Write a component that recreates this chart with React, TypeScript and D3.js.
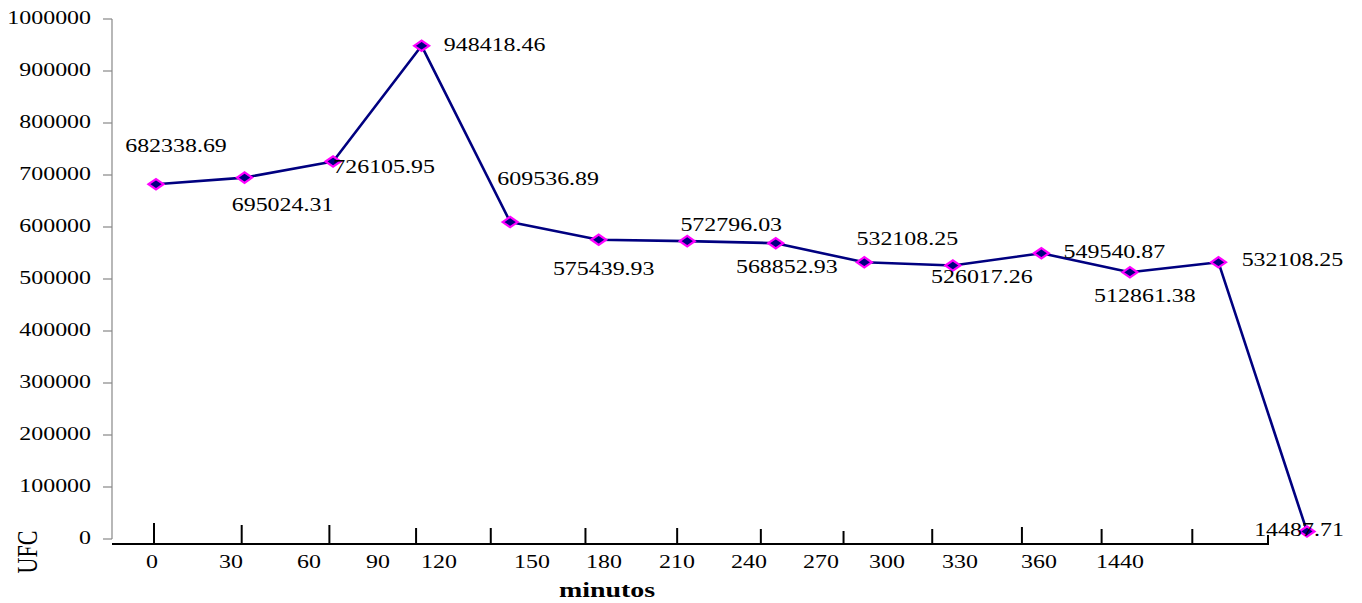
import React from "react";
import * as d3 from "d3";

// Sampling times (minutes) and colony counts (UFC)
const categories: string[] = ["0", "30", "60", "90", "120", "150", "180", "210", "240", "270", "300", "330", "360", "1440"];
const ufcValues: number[] = [
  682338.69, 695024.31, 726105.95, 948418.46, 609536.89, 575439.93, 572796.03,
  568852.93, 532108.25, 526017.26, 549540.87, 512861.38, 532108.25, 14487.71,
];
const yTicks: number[] = [0, 100000, 200000, 300000, 400000, 500000, 600000, 700000, 800000, 900000, 1000000];

// Placement of each value label relative to its point [dx, dy]
const labelOffsets: [number, number][] = [
  [20, -32], [38, 33], [51, 12], [73, 5], [38, -37], [5, 35], [44, -10],
  [11, 30], [43, -17], [29, 18], [73, 5], [15, 30], [74, 4], [-8, 5],
];
// Hand-placed category label nudges and tick marks along the base line
const catLabelNudge: number[] = [0, 4.5, 8, 2.6, -10.8, 7.7, 5.2, 3.8, 1.3, -1.2, -9.6, -11.1, -6.5, 0];
const tickNudge: number[] = [0, 2, 4, 5, -6, 3, 9, 7, 4, 7, 11, 5, 10, 0];
const tickLengths: number[] = [21, 19, 19, 16, 16, 16, 16, 15, 13, 15, 17, 15, 15, 9];

const W = 1362;
const H = 603;
const FONT = "'Liberation Serif', 'Times New Roman', serif";
const SX = 1.33; // horizontal stretch of the text

export default function App() {
  const x = d3.scalePoint<string>().domain(categories).range([156, 1307]);
  const y = d3.scaleLinear().domain([0, 1000000]).range([539, 19]);
  const xCat = d3.scalePoint<string>().domain(categories).range([152, 1120]);
  const xTick = d3.scalePoint<string>().domain(categories).range([154, 1268]);

  const pts = categories.map((c, i) => ({ c, v: ufcValues[i], i }));
  const line = d3
    .line<{ c: string; v: number }>()
    .x((d) => x(d.c)!)
    .y((d) => y(d.v));
  const fmt = d3.format(".2f");
  const axisY = 544;

  const stretched = (tx: number, ty: number) => `translate(${tx},${ty}) scale(${SX},1)`;

  return (
    <svg
      width={W}
      height={H}
      style={{ position: "absolute", left: 0, top: 0, background: "#fff" }}
      fontFamily={FONT}
    >
      {/* value axis */}
      <line x1={112} x2={112} y1={y(1000000)} y2={y(0)} stroke="#888" strokeWidth={1.2} />
      {yTicks.map((t) => (
        <g key={t}>
          <line x1={103} x2={112} y1={y(t)} y2={y(t)} stroke="#888" strokeWidth={1.2} />
          <text transform={stretched(91, y(t) + 5)} textAnchor="end" fontSize={18} fill="#000">
            {t}
          </text>
        </g>
      ))}
      <text
        transform={`translate(37,552) rotate(-90) scale(1,${SX})`}
        textAnchor="middle"
        fontSize={22}
        fill="#000"
      >
        UFC
      </text>

      {/* category base line */}
      <line x1={112} x2={1269} y1={axisY} y2={axisY} stroke="#000" strokeWidth={2.2} />
      {categories.map((c, i) => {
        const tx = xTick(c)! + tickNudge[i];
        return (
          <line key={"t" + c} x1={tx} x2={tx} y1={axisY} y2={axisY - tickLengths[i]} stroke="#000" strokeWidth={2} />
        );
      })}
      {categories.map((c, i) => (
        <text
          key={"l" + c}
          transform={stretched(xCat(c)! + catLabelNudge[i], 568)}
          textAnchor="middle"
          fontSize={18}
          fill="#000"
        >
          {c}
        </text>
      ))}
      <text transform={stretched(607, 597)} textAnchor="middle" fontSize={21} fontWeight="bold" fill="#000">
        minutos
      </text>

      {/* series */}
      <path d={line(pts) ?? ""} fill="none" stroke="#000080" strokeWidth={2.6} strokeLinejoin="round" />
      {pts.map((p) => {
        const px = x(p.c)!;
        const py = y(p.v);
        return (
          <path
            key={"m" + p.i}
            d={`M${px - 7.5},${py} L${px},${py - 5.2} L${px + 7.5},${py} L${px},${py + 5.2} Z`}
            fill="#000080"
            stroke="#ff00ff"
            strokeWidth={2.2}
          />
        );
      })}
      {pts.map((p) => (
        <text
          key={"v" + p.i}
          transform={stretched(x(p.c)! + labelOffsets[p.i][0], y(p.v) + labelOffsets[p.i][1])}
          textAnchor="middle"
          fontSize={18}
          fill="#000"
        >
          {fmt(p.v)}
        </text>
      ))}
    </svg>
  );
}
